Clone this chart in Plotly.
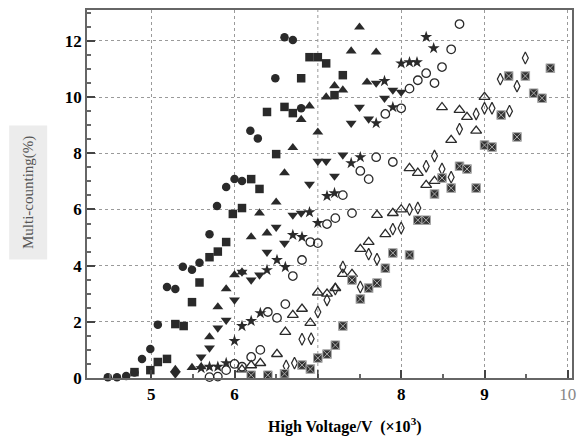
import plotly.graph_objects as go

# ---- data (High Voltage in kV, multi-counting in %) ----
circ_x = [4.48, 4.59, 4.70, 4.80, 4.89, 4.99, 5.08, 5.19, 5.29, 5.38, 5.49, 5.58, 5.70, 5.79, 5.90, 6.00, 6.09, 6.19, 6.28, 6.49, 6.60, 6.70, 6.80]
circ_y = [0.03, 0.03, 0.07, 0.20, 0.68, 1.03, 1.90, 3.24, 3.17, 3.96, 3.85, 4.10, 5.12, 6.12, 6.80, 7.08, 7.01, 8.80, 8.53, 10.67, 12.13, 12.03, 9.60]

sq_x = [4.80, 4.99, 5.08, 5.19, 5.29, 5.39, 5.49, 5.58, 5.70, 5.80, 5.90, 5.98, 6.09, 6.20, 6.30, 6.39, 6.50, 6.60, 6.70, 6.80, 6.90, 7.00, 7.10, 7.20, 7.30]
sq_y = [0.21, 0.28, 0.57, 0.68, 1.92, 1.85, 2.70, 3.40, 4.30, 4.50, 4.84, 5.84, 6.05, 7.08, 6.73, 9.47, 7.97, 9.65, 9.43, 10.67, 11.42, 11.42, 11.20, 10.07, 10.78]

tri_x = [5.29, 5.49, 5.60, 5.70, 5.80, 5.90, 6.00, 6.09, 6.20, 6.30, 6.39, 6.50, 6.60, 6.70, 6.80, 6.90, 7.00, 7.10, 7.20, 7.30, 7.40, 7.50, 7.59, 7.70]
tri_y = [0.30, 0.37, 0.40, 1.46, 2.53, 3.17, 3.67, 3.77, 5.02, 5.87, 5.16, 6.26, 7.30, 8.20, 9.20, 9.68, 8.75, 10.00, 10.40, 10.25, 11.64, 12.49, 10.53, 11.60]

tdn_x = [5.29, 5.60, 5.70, 5.80, 5.90, 6.00, 6.09, 6.20, 6.30, 6.39, 6.50, 6.60, 6.70, 6.80, 6.90, 7.00, 7.10, 7.20, 7.30, 7.40, 7.50, 7.61, 7.70, 7.80, 7.90, 8.00]
tdn_y = [0.14, 0.75, 1.07, 1.78, 2.06, 2.78, 3.77, 3.49, 3.67, 4.48, 5.37, 4.80, 5.80, 5.87, 6.90, 7.72, 7.72, 7.19, 7.94, 9.07, 9.64, 9.22, 10.50, 9.96, 10.25, 10.18]

star_x = [5.60, 5.70, 5.80, 5.90, 6.00, 6.09, 6.20, 6.31, 6.39, 6.51, 6.61, 6.70, 6.81, 6.90, 7.00, 7.11, 7.20, 7.40, 7.51, 7.70, 7.80, 7.90, 8.00, 8.10, 8.19, 8.30, 8.39]
star_y = [0.35, 0.40, 0.40, 0.53, 1.32, 1.85, 2.03, 2.31, 3.84, 4.20, 3.95, 5.09, 5.02, 5.90, 5.52, 6.48, 6.58, 7.65, 7.86, 9.07, 10.57, 9.64, 11.20, 11.24, 11.24, 12.14, 11.74]

ocirc_x = [5.70, 5.80, 5.90, 6.00, 6.09, 6.20, 6.31, 6.40, 6.51, 6.61, 6.70, 6.81, 6.91, 7.00, 7.11, 7.21, 7.30, 7.41, 7.51, 7.61, 7.70, 7.81, 7.90, 8.00, 8.10, 8.20, 8.30, 8.40, 8.49, 8.60, 8.70]
ocirc_y = [0.03, 0.05, 0.28, 0.50, 0.40, 0.75, 1.00, 2.35, 2.14, 2.63, 3.63, 4.20, 4.84, 4.80, 5.48, 5.69, 6.51, 5.87, 7.37, 7.08, 7.86, 9.40, 7.69, 9.60, 10.30, 10.60, 10.85, 10.50, 11.07, 11.70, 12.60]

otri_x = [6.09, 6.20, 6.31, 6.51, 6.61, 6.70, 6.81, 6.91, 7.00, 7.11, 7.21, 7.30, 7.41, 7.51, 7.61, 7.71, 7.81, 7.90, 8.00, 8.10, 8.20, 8.30, 8.40, 8.49, 8.60, 8.70, 8.79, 8.90, 9.00]
otri_y = [0.30, 0.45, 0.53, 0.85, 1.64, 2.24, 2.46, 1.96, 3.04, 3.00, 3.20, 3.70, 3.70, 4.59, 4.84, 5.80, 5.12, 5.87, 6.00, 7.47, 7.30, 6.87, 7.01, 9.64, 8.47, 9.54, 9.29, 8.80, 10.00]

odia_x = [6.62, 6.72, 6.81, 6.92, 7.00, 7.11, 7.21, 7.30, 7.51, 7.61, 7.71, 7.90, 8.00, 8.10, 8.20, 8.30, 8.40, 8.49, 8.60, 8.70, 8.90, 9.00, 9.09, 9.19, 9.30, 9.39, 9.49]
odia_y = [0.43, 0.53, 1.38, 1.40, 2.35, 2.78, 3.17, 3.95, 3.24, 4.41, 4.23, 5.30, 5.34, 6.00, 6.05, 7.54, 7.90, 7.44, 7.15, 8.86, 9.40, 9.60, 9.60, 10.64, 9.50, 10.39, 11.39]

sqx_x = [6.20, 6.40, 6.60, 6.81, 6.91, 7.00, 7.11, 7.21, 7.30, 7.41, 7.51, 7.61, 7.71, 7.81, 7.90, 8.10, 8.20, 8.30, 8.40, 8.49, 8.60, 8.70, 8.79, 8.90, 9.00, 9.09, 9.20, 9.29, 9.39, 9.49, 9.59, 9.69, 9.79]
sqx_y = [0.10, 0.10, 0.15, 0.46, 0.32, 0.71, 0.85, 1.17, 1.85, 3.49, 2.81, 3.20, 3.38, 3.91, 4.45, 4.38, 5.62, 5.62, 6.55, 7.12, 6.76, 7.54, 7.44, 6.76, 8.29, 8.22, 9.36, 10.75, 8.58, 10.75, 10.14, 9.96, 11.03]

x_tickvals = [5, 6, 8, 9, 10]
x_ticktext = ["<b>5</b>", "<b>6</b>", "<b>8</b>", "<b>9</b>", "<span style='color:#888'>10</span>"]
x_unlabelled_grid = [7]
y_tickvals = [0, 2, 4, 6, 8, 10, 12]
y_ticktext = ["<b>0</b>", "<b>2</b>", "<b>4</b>", "<b>6</b>", "<b>8</b>", "<b>10</b>", "<b>12</b>"]

DARK = "#2a2a2a"
series = [
    (circ_x, circ_y, "circle", 8.5, DARK, None),
    (sq_x, sq_y, "square", 8.5, DARK, None),
    (tri_x, tri_y, "triangle-up", 9.5, DARK, None),
    (tdn_x, tdn_y, "triangle-down", 9.5, DARK, None),
    (star_x, star_y, "star", 9, DARK, None),
    (ocirc_x, ocirc_y, "circle-open", 8.5, DARK, 1.3),
    (otri_x, otri_y, "triangle-up-open", 9.5, DARK, 1.3),
    (odia_x, odia_y, "diamond-tall-open", 8.5, DARK, 1.2),
    (sqx_x, sqx_y, "square-x", 8.5, "#333333", None),
]

fig = go.Figure()
for xs, ys, sym, size, col, lw in series:
    if sym == "square-x":
        marker = dict(symbol=sym, size=size, color=col, line=dict(color="#a8a8a8", width=1))
    elif lw is not None:
        marker = dict(symbol=sym, size=size, color=col, line=dict(color=col, width=lw))
    else:
        marker = dict(symbol=sym, size=size, color=col, line=dict(width=0))
    fig.add_trace(go.Scatter(x=xs, y=ys, mode="markers", marker=marker,
                             cliponaxis=False, showlegend=False))

for gx in x_unlabelled_grid:
    fig.add_shape(type="line", xref="x", yref="paper", x0=gx, x1=gx, y0=0, y1=1,
                  line=dict(color="#9a9a9a", width=1, dash="dot"), layer="below")
    fig.add_shape(type="line", xref="x", yref="paper", x0=gx, x1=gx, y0=0, y1=0.022,
                  line=dict(color="#444", width=1.5), layer="above")

serif = "Liberation Serif, Times New Roman, serif"

common = dict(ticks="inside", ticklen=8, tickwidth=1.5, tickcolor="#444",
              minor=dict(dtick=0.5, ticks="inside", ticklen=4, tickcolor="#666", showgrid=False),
              showgrid=True, gridcolor="#9a9a9a", griddash="dot", gridwidth=1,
              showline=True, linecolor="#666", linewidth=1.5, mirror=True,
              zeroline=False, automargin=False,
              tickfont=dict(family=serif, size=17, color="#000"))
fig.update_xaxes(range=[4.23, 10.05], tickvals=x_tickvals, ticktext=x_ticktext, **common)
fig.update_yaxes(range=[0, 13.1], tickvals=y_tickvals, ticktext=y_ticktext, **common)

fig.add_annotation(text="Multi-counting(%)", xref="paper", yref="paper",
                   x=-0.122, y=0.505, textangle=-90, showarrow=False,
                   font=dict(family=serif, size=15, color="#555"),
                   bgcolor="#ececec", borderpad=10, xanchor="center", yanchor="middle")
fig.add_annotation(text="<b>High Voltage/V  (×10<sup>3</sup>)</b>", xref="paper", yref="paper",
                   x=0.532, y=-0.128, showarrow=False,
                   font=dict(family=serif, size=16, color="#000"),
                   xanchor="center", yanchor="middle")

# page body has an 8px default margin, so the figure is sized to fill the rest
fig.update_layout(width=578, height=437, margin=dict(l=79, r=14, t=2, b=67, autoexpand=False),
                  paper_bgcolor="white", plot_bgcolor="white")

fig.write_html("out.html")
